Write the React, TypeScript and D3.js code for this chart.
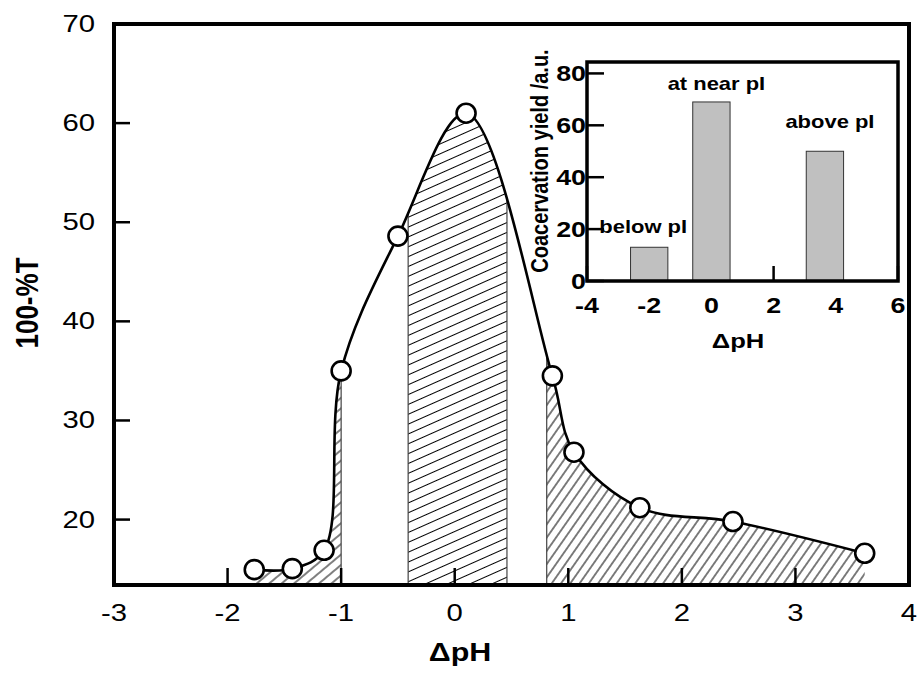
import { scaleLinear, line, area, curveCatmullRom } from 'd3'

// main curve: turbidity vs. distance from pI
const PH = [-1.765, -1.43, -1.15, -1.0, -0.5, 0.1, 0.86, 1.05, 1.63, 2.45, 3.61]
const T = [14.95, 15.05, 16.9, 35.0, 48.6, 61.0, 34.5, 26.8, 21.2, 19.8, 16.6]

// hatched ranges under the curve
const HATCH_FROM = [-1.76, -0.41, 0.81]
const HATCH_TO = [-1.0, 0.46, 3.62]

const X_TICKS = [-3, -2, -1, 0, 1, 2, 3, 4]
const Y_TICKS = [20, 30, 40, 50, 60, 70]

// inset bar chart
const INSET_X = [-2, 0, 3.65]
const INSET_YIELD = [13, 69, 50]
const INSET_LABELS = ['below pI', 'at near pI', 'above pI']
const INSET_X_TICKS = [-4, -2, 0, 2, 4, 6]
const INSET_Y_TICKS = [0, 20, 40, 60, 80]

const HATCH_STYLE = [
  { angle: 40, gap: 8 },
  { angle: 24, gap: 9 },
  { angle: 55, gap: 7.6 },
]
const LABEL_OFFSET = [
  { dx: -6, dy: -14 },
  { dx: 5, dy: -12 },
  { dx: 5, dy: -23 },
]

const FONT = '"Liberation Sans", Arial, sans-serif'
const SX = 1.22 // glyphs in the source look stretched sideways

function Label({ x, y, size, bold, anchor, rotate, children }: any) {
  const tr = rotate
    ? `translate(${x},${y}) rotate(-90) scale(1,${SX})`
    : `translate(${x},${y}) scale(${SX},1)`
  return (
    <text
      transform={tr}
      fontFamily={FONT}
      fontSize={size}
      fontWeight={bold ? 'bold' : 'normal'}
      textAnchor={anchor || 'middle'}
      fill='#000'
    >
      {children}
    </text>
  )
}

export default function App() {
  const width = 918
  const height = 691
  const x = scaleLinear().domain([-3, 4]).range([114, 909])
  const y = scaleLinear().domain([13.4, 70]).range([585, 24])
  const bottom = y(13.4)
  const top = y(70)
  const pts = PH.map((p, i) => [p, T[i]] as [number, number])

  const curve = curveCatmullRom.alpha(0.5)
  const linePath = line<[number, number]>()
    .x((d) => x(d[0]))
    .y((d) => y(d[1]))
    .curve(curve)(pts)!
  const areaPath = area<[number, number]>()
    .x((d) => x(d[0]))
    .y0(bottom)
    .y1((d) => y(d[1]))
    .curve(curve)(pts)!

  const edges = [HATCH_TO[0], HATCH_FROM[1], HATCH_TO[1], HATCH_FROM[2]]

  // inset scales
  const ix = scaleLinear().domain([-4, 6]).range([587, 898])
  const iy = scaleLinear().domain([0, 84.4]).range([281, 62])
  const barW = ix(1.2) - ix(0)

  return (
    <svg
      width={width}
      height={height}
      style={{ position: 'absolute', left: 0, top: 0, background: '#fff' }}
    >
      <defs>
        <clipPath id='under'>
          <path d={areaPath} />
        </clipPath>
        {HATCH_STYLE.map((h, i) => (
          <pattern
            key={i}
            id={`hatch${i}`}
            patternUnits='userSpaceOnUse'
            width={10}
            height={h.gap}
            patternTransform={`rotate(${-h.angle})`}
          >
            <line x1={0} x2={10} y1={h.gap / 2} y2={h.gap / 2} stroke='#000' strokeWidth={1} />
          </pattern>
        ))}
      </defs>

      {/* hatched regions */}
      <g clipPath='url(#under)'>
        {HATCH_FROM.map((f, i) => (
          <rect
            key={i}
            x={x(f)}
            y={top}
            width={x(HATCH_TO[i]) - x(f)}
            height={bottom - top}
            fill={`url(#hatch${i})`}
          />
        ))}
        {edges.map((e, i) => (
          <line key={i} x1={x(e)} x2={x(e)} y1={top} y2={bottom} stroke='#444' strokeWidth={1.2} />
        ))}
      </g>

      {/* ticks */}
      {X_TICKS.map((t) => (
        <line key={t} x1={x(t)} x2={x(t)} y1={bottom} y2={bottom - 17} stroke='#000' strokeWidth={2.5} />
      ))}
      {Y_TICKS.map((t) => (
        <line key={t} x1={x(-3)} x2={x(-3) + 16} y1={y(t)} y2={y(t)} stroke='#000' strokeWidth={2.5} />
      ))}

      {/* curve + points */}
      <path d={linePath} fill='none' stroke='#000' strokeWidth={2.6} />
      {pts.map((d, i) => (
        <circle key={i} cx={x(d[0])} cy={y(d[1])} r={9.5} fill='#fff' stroke='#000' strokeWidth={2.6} />
      ))}

      {/* frame */}
      <rect x={x(-3)} y={top} width={x(4) - x(-3)} height={bottom - top} fill='none' stroke='#000' strokeWidth={4} />

      {/* tick labels */}
      {X_TICKS.map((t) => (
        <Label key={t} x={x(t)} y={621} size={24}>{t}</Label>
      ))}
      {Y_TICKS.map((t) => (
        <Label key={t} x={95} y={y(t) + 8} size={24} anchor='end'>{t}</Label>
      ))}
      <Label x={460} y={661} size={25} bold>ΔpH</Label>
      <Label x={38} y={303} size={26} bold rotate>100-%T</Label>

      {/* inset */}
      <rect x={ix(-4)} y={iy(84.4)} width={ix(6) - ix(-4)} height={iy(0) - iy(84.4)} fill='#fff' />
      {INSET_X_TICKS.map((t) => (
        <line key={t} x1={ix(t)} x2={ix(t)} y1={iy(0)} y2={iy(0) - 15} stroke='#000' strokeWidth={2.5} />
      ))}
      {INSET_Y_TICKS.map((t) => (
        <line key={t} x1={ix(-4)} x2={ix(-4) + 17} y1={iy(t)} y2={iy(t)} stroke='#000' strokeWidth={2.5} />
      ))}
      {INSET_X.map((v, i) => (
        <rect
          key={i}
          x={ix(v) - barW / 2}
          y={iy(INSET_YIELD[i])}
          width={barW}
          height={iy(0) - iy(INSET_YIELD[i])}
          fill='#c0c0c0'
          stroke='#333'
          strokeWidth={1}
        />
      ))}
      <rect x={ix(-4)} y={iy(84.4)} width={ix(6) - ix(-4)} height={iy(0) - iy(84.4)} fill='none' stroke='#000' strokeWidth={3.5} />
      {INSET_LABELS.map((s, i) => (
        <Label
          key={i}
          x={ix(INSET_X[i]) + LABEL_OFFSET[i].dx}
          y={iy(INSET_YIELD[i]) + LABEL_OFFSET[i].dy}
          size={18}
          bold
        >
          {s}
        </Label>
      ))}
      {INSET_X_TICKS.map((t) => (
        <Label key={t} x={ix(t)} y={313} size={22} bold>{t}</Label>
      ))}
      {INSET_Y_TICKS.map((t) => (
        <Label key={t} x={586} y={iy(t) + 8} size={22} bold anchor='end'>{t}</Label>
      ))}
      <Label x={738} y={348} size={21} bold>ΔpH</Label>
      <Label x={548} y={161} size={20} bold rotate>Coacervation yield /a.u.</Label>
    </svg>
  )
}
